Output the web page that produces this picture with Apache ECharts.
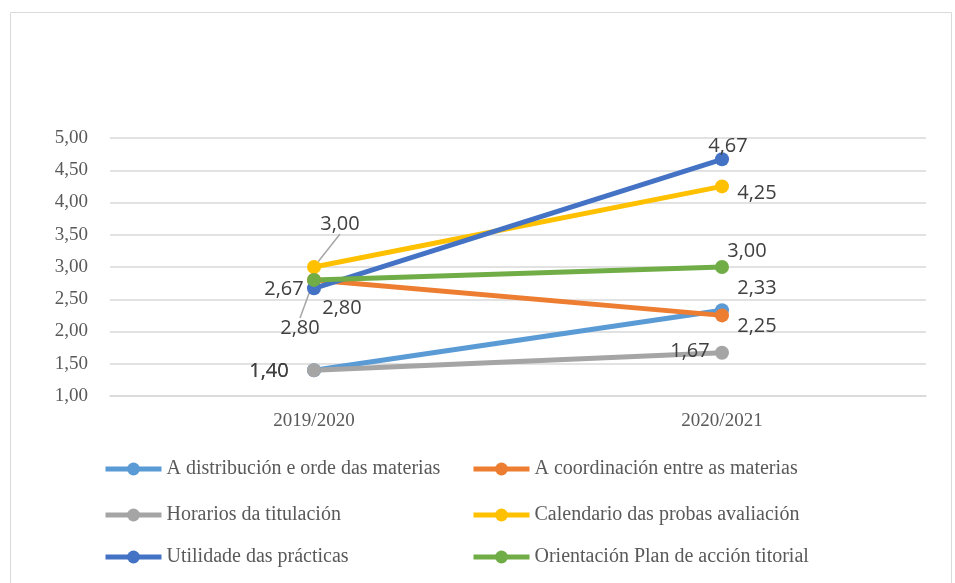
<!DOCTYPE html>
<html>
<head>
<meta charset="utf-8">
<script src="https://cdn.jsdelivr.net/npm/echarts@6/dist/echarts.min.js"></script>
<style>
  html, body { margin: 0; padding: 0; background: #fff; }
  #chart { width: 955px; height: 583px; }
</style>
</head>
<body>
<div id="chart"></div>
<script>
const categories = ["2019/2020", "2020/2021"]
const seriesNames = [
  "A distribución e orde das materias",
  "A coordinación entre as materias",
  "Horarios da titulación",
  "Calendario das probas avaliación",
  "Utilidade das prácticas",
  "Orientación Plan de acción titorial",
]
const distribucion = [1.40, 2.33]
const coordinacion = [2.80, 2.25]
const horarios = [1.40, 1.67]
const calendario = [3.00, 4.25]
const utilidade = [2.67, 4.67]
const orientacion = [2.80, 3.00]
const yTicks = [1, 5, 0.5] // min, max, interval

const colors = ["#5B9BD5", "#ED7D31", "#A5A5A5", "#FFC000", "#4472C4", "#70AD47"]
const values = [distribucion, coordinacion, horarios, calendario, utilidade, orientacion]

// label offsets (dx, dy) from the point, per series and category
const labelOffsets = [
  [[-45, 1], [35, -22]],
  [[28, 28], [35, 11]],
  [[-45, 1], [-32, -1]],
  [[26, -43], [35, 7]],
  [[-30, 1], [6, -13]],
  [[-14, 48], [25, -16]],
]
// [series, category] pairs that get a leader line
const leaderLines = [[3, 0], [5, 0]]

const fmt = (v) => Number(v).toFixed(2).replace(".", ",")

const chart = echarts.init(document.getElementById("chart"))

const series = values.map((data, i) => ({
  name: seriesNames[i],
  type: "line",
  data: data.map((v, j) => ({
    value: v,
    labelLine: { show: leaderLines.some((l) => l[0] === i && l[1] === j) },
  })),
  symbol: "circle",
  symbolSize: 14,
  lineStyle: { width: 5, color: colors[i] },
  itemStyle: { color: colors[i] },
  label: {
    show: true,
    position: "inside",
    formatter: (p) => fmt(p.value),
    color: "#404040",
    fontSize: 20,
    fontFamily: "Open Sans",
  },
  labelLine: {
    show: false,
    lineStyle: { color: "#A6A6A6", width: 1.5 },
  },
  labelLayout: (params) => {
    const off = labelOffsets[i][params.dataIndex]
    return { dx: off[0], dy: off[1] }
  },
  emphasis: { disabled: true },
}))

// legend: two columns, three rows
const legendCols = [98, 466]
const legendRows = [454, 500, 542]
const legends = seriesNames.map((name, i) => ({
  data: [name],
  left: legendCols[i % 2],
  top: legendRows[Math.floor(i / 2)],
  itemWidth: 56,
  itemHeight: 16,
  itemGap: 4,
  lineStyle: { width: 5 },
  textStyle: {
    fontFamily: "Liberation Serif",
    fontSize: 20,
    color: "#595959",
  },
}))

const option = {
  animation: false,
  graphic: [
    {
      type: "rect",
      shape: { x: 10.5, y: 12.5, width: 941, height: 580 },
      style: { fill: "none", stroke: "#D9D9D9", lineWidth: 1 },
    },
  ],
  legend: legends,
  grid: {
    left: 110,
    right: 29,
    top: 138,
    bottom: 187,
  },
  xAxis: {
    type: "category",
    data: categories,
    boundaryGap: true,
    axisLine: { lineStyle: { color: "#D9D9D9", width: 1.5 } },
    axisTick: { show: false },
    axisLabel: {
      color: "#595959",
      fontFamily: "Liberation Serif",
      fontSize: 19,
      margin: 16,
    },
  },
  yAxis: {
    type: "value",
    min: yTicks[0],
    max: yTicks[1],
    interval: yTicks[2],
    axisLine: { show: false },
    axisTick: { show: false },
    axisLabel: {
      formatter: fmt,
      color: "#595959",
      fontFamily: "Liberation Serif",
      fontSize: 19,
      margin: 22,
    },
    splitLine: { lineStyle: { color: "#D9D9D9", width: 1.5 } },
  },
  series: series,
}
chart.setOption(option)
</script>
</body>
</html>
